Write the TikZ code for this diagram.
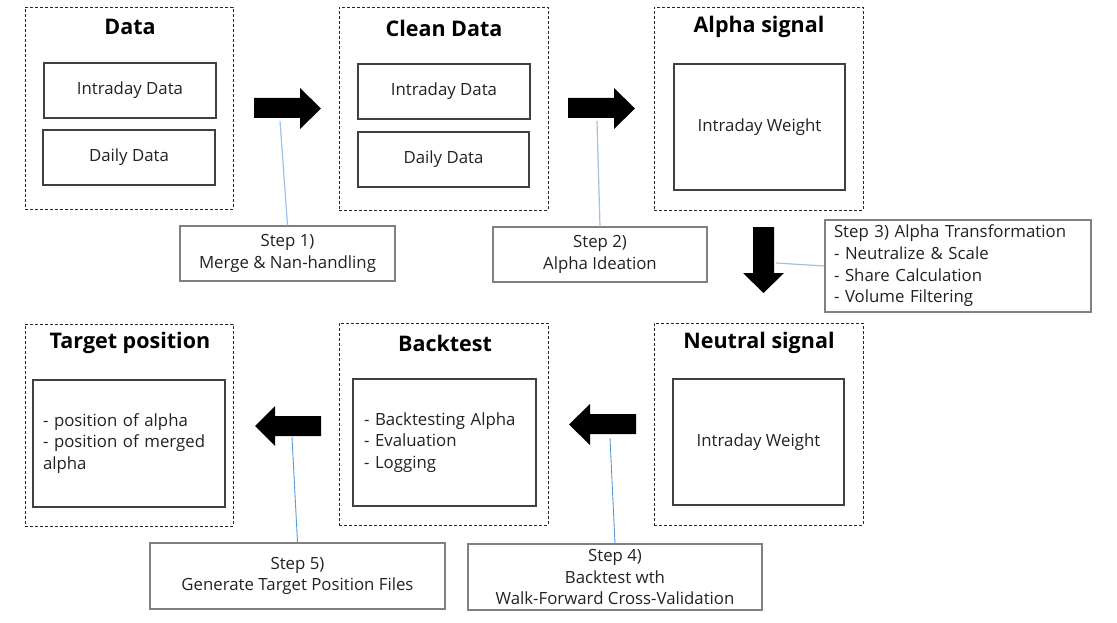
\documentclass[tikz,border=0pt]{standalone}
\usepackage{fontspec}
\setmainfont{Open Sans}
\definecolor{linkA}{HTML}{9DC3E6}
\definecolor{linkB}{HTML}{5B9BD5}
\definecolor{txt}{HTML}{222222}
\begin{document}
\begin{tikzpicture}[x=1pt,y=-1pt,
  grp/.style={draw=black!85,line width=0.8pt,dash pattern=on 3pt off 2pt,minimum width=208pt,minimum height=202pt,inner sep=0pt},
  ttl/.style={font=\fontsize{21.5}{25}\selectfont\bfseries,text=black,inner sep=0pt},
  inbox/.style={draw=black!75,line width=1.2pt,inner sep=0pt,font=\fontsize{16.8}{21.7}\selectfont,text=txt,align=left},
  stepbox/.style={draw=black!50,line width=1.3pt,inner sep=0pt,font=\fontsize{16.8}{21.7}\selectfont,text=txt,align=center},
  blk/.style={fill=black},
  lnkA/.style={draw=linkA,line width=1.2pt},
  lnkB/.style={draw=linkB,line width=0.9pt}
]
\useasboundingbox (0,0) rectangle (1117,623);
\fill[white] (0,0) rectangle (1117,623);

% ---- top row groups
\node[grp] (gData) at (129,108) {};
\node[ttl] (tData) at (130,27) {Data};
\node[inbox,minimum width=172pt,minimum height=55pt] (dIntra) at (130,90.5) {Intraday Data};
\node[inbox,minimum width=172pt,minimum height=55pt] (dDaily) at (129,157.5) {Daily Data};

\node[grp,minimum width=209pt,minimum height=203pt] (gClean) at (443.5,108.5) {};
\node[ttl] (tClean) at (444,28) {Clean Data};
\node[inbox,minimum width=172pt,minimum height=55pt] (cIntra) at (444,91.5) {Intraday Data};
\node[inbox,minimum width=171pt,minimum height=55pt] (cDaily) at (443.5,159.5) {Daily Data};

\node[grp,minimum width=209pt,minimum height=203pt] (gAlpha) at (758.5,108.5) {};
\node[ttl] (tAlpha) at (759,27) {Alpha signal};
\node[inbox,minimum width=171pt,minimum height=126pt] (aW) at (759.5,127) {Intraday Weight};

% ---- bottom row groups
\node[grp] (gTarget) at (129,425) {};
\node[ttl] (tTarget) at (130,343) {Target position};
\node[inbox,inner xsep=10pt,text width=172pt,minimum height=127pt] (tBox) at (129,443.5) {- position of alpha\\- position of merged\\alpha};

\node[grp,minimum width=209pt] (gBack) at (443.5,424) {};
\node[ttl] (tBack) at (445,343) {Backtest};
\node[inbox,inner xsep=11pt,text width=161pt,minimum height=127pt] (bBox) at (444.5,442.5) {- Backtesting Alpha\\- Evaluation\\- Logging};

\node[grp,minimum width=209pt] (gNeutral) at (758.5,424) {};
\node[ttl] (tNeutral) at (759,343) {Neutral signal};
\node[inbox,minimum width=171pt,minimum height=126pt] (nW) at (758.5,442) {Intraday Weight};

% ---- step boxes
\node[stepbox,minimum width=215pt,minimum height=55pt] (s1) at (287.5,253.5) {Step 1)\\Merge \& Nan-handling};
\node[stepbox,minimum width=214pt,minimum height=55pt] (s2) at (600,254.5) {Step 2)\\Alpha Ideation};
\node[stepbox,align=left,inner xsep=9pt,text width=248pt,minimum height=92pt] (s3) at (958,266) {Step 3) Alpha Transformation\\- Neutralize \& Scale\\- Share Calculation\\- Volume Filtering};
\node[stepbox,minimum width=294pt,minimum height=66pt] (s4) at (615,577) {Step 4)\\Backtest wth\\Walk-Forward Cross-Validation};
\node[stepbox,minimum width=295pt,minimum height=66pt] (s5) at (297.5,576) {Step 5)\\Generate Target Position Files};

% ---- block arrows
\fill[blk] (254,98)--(300,98)--(300,88)--(321,108.5)--(300,129)--(300,118)--(254,118)--cycle;
\fill[blk] (568,98)--(614,98)--(614,88)--(635,108.5)--(614,129)--(614,118)--(568,118)--cycle;
\fill[blk] (753,227)--(774,227)--(774,273)--(784,273)--(763.5,293)--(743,273)--(753,273)--cycle;
\fill[blk] (321,416)--(275,416)--(275,406)--(255,426)--(275,446)--(275,436)--(321,436)--cycle;
\fill[blk] (636,414)--(590,414)--(590,404)--(569,424.5)--(590,445)--(590,434)--(636,434)--cycle;

% ---- arrow feet for links
\coordinate (f1) at (280,121);
\coordinate (f2) at (597,121);
\coordinate (f3) at (776,263);
\coordinate (f4) at (610,438);
\coordinate (f5) at (292,437);

\draw[lnkA] (f1) -- (s1.north);
\draw[lnkA] (f2) -- (s2.north);
\draw[lnkA] (f3) -- (s3.west);
\draw[lnkB] (f4) -- (s4.north);
\draw[lnkB] (f5) -- (s5.north);
\end{tikzpicture}
\end{document}
